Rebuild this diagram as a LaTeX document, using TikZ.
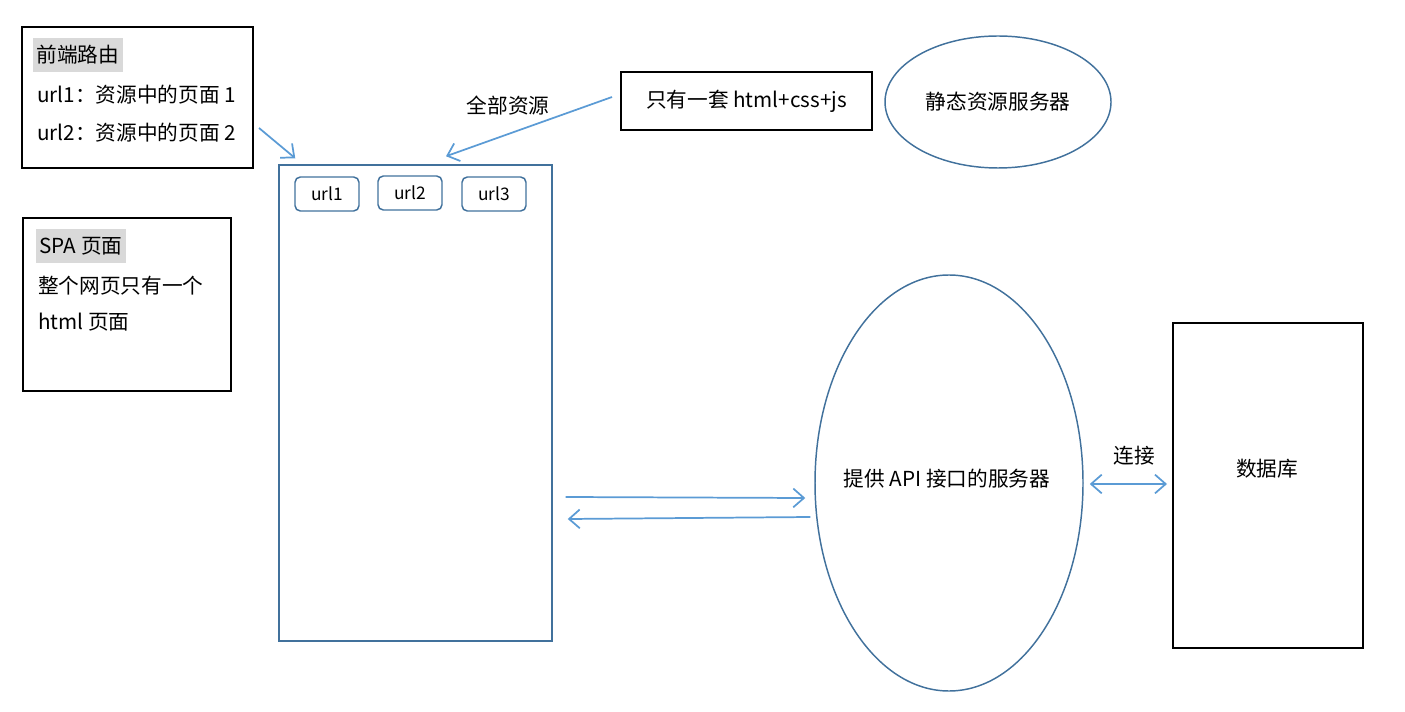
\documentclass[tikz,border=0pt]{standalone}
\usepackage{fontspec}
\setmainfont{Noto Sans CJK SC}
\usepackage{tikz}
\usetikzlibrary{arrows.meta, positioning, shapes.geometric}
\definecolor{edgeblue}{RGB}{65,113,156}
\definecolor{arrowblue}{RGB}{91,155,213}
\definecolor{markgray}{RGB}{217,217,217}

\begin{document}
\begin{tikzpicture}[
  x=0.75pt, y=-0.75pt,
  font=\fontsize{15.5}{18}\selectfont,
  note/.style={rectangle, draw=black, line width=1.5pt},
  blk/.style={rectangle, draw=edgeblue, line width=1.1pt},
  urlbox/.style={rectangle, draw=edgeblue, line width=1.1pt, rounded corners=4pt,
                 minimum width=48pt, minimum height=25.5pt, font=\fontsize{13}{15}\selectfont},
  srv/.style={ellipse, draw=edgeblue, line width=1.1pt, inner sep=0pt},
  txtline/.style={anchor=west, inner sep=0pt},
  hilite/.style={anchor=west, fill=markgray, inner xsep=2.5pt, inner ysep=0pt, minimum height=26pt},
  arr/.style={-{Straight Barb[length=8pt, width=14pt]}, arrowblue, line width=1.3pt},
  darr/.style={{Straight Barb[length=8pt, width=14pt]}-{Straight Barb[length=8pt, width=14pt]}, arrowblue, line width=1.3pt},
]
  \useasboundingbox (0,0) rectangle (1405,712);

  % left notes
  \node[note, minimum width=173.25pt, minimum height=105.75pt] (route) at (137.5,97.5) {};
  \node[hilite] (routetitle) at (33,55) {前端路由};
  \node[txtline] (routeone) at (37,95) {url1：资源中的页面 1};
  \node[txtline] (routetwo) at (37,133) {url2：资源中的页面 2};

  \node[note, minimum width=156pt, minimum height=129.75pt] (spa) at (127,304.5) {};
  \node[hilite] (spatitle) at (36,246) {SPA 页面};
  \node[txtline] (spaone) at (38,286) {整个网页只有一个};
  \node[txtline] (spatwo) at (38,322) {html 页面};

  % the single page
  \node[blk, minimum width=204.75pt, minimum height=357pt] (page) at (415.5,403) {};
  \node[urlbox] (u1) at (327,194) {url1};
  \node[urlbox] (u2) at (410,193) {url2};
  \node[urlbox] (u3) at (494,194) {url3};

  % static resources
  \node[note, minimum width=188.25pt, minimum height=43.5pt] (only) at (746.5,101) {只有一套 html+css+js};
  \node[srv, minimum width=169.5pt, minimum height=99pt] (static) at (998,102) {};
  \node (statictext) at (static.center) {静态资源服务器};
  \node (allres) at (508,106) {全部资源};

  % api server and database
  \node[srv, minimum width=201pt, minimum height=312pt] (api) at (949,483) {};
  \node (apitext) at (947,479) {提供 API 接口的服务器};
  \node[note, minimum width=142.5pt, minimum height=243.75pt] (db) at (1268,485.5) {};
  \node (dbtext) at (1267,469) {数据库};
  \node (link) at (1134,456) {连接};

  % arrows
  \draw[arr] ([shift={(5,30.5)}]route.east) -- ([shift={(17,-6)}]page.north west);
  \draw[arr] ([shift={(-8,-4)}]only.west) -- ([shift={(30.5,-8)}]page.north);
  \draw[arr] ([shift={(13,94)}]page.east) -- ([shift={(-9,15)}]api.west);
  \draw[arr] ([shift={(-4,34)}]api.west) -- ([shift={(15,116)}]page.east);
  \draw[darr] ([shift={(6,1)}]api.east) -- ([shift={(-5,-1.5)}]db.west);
\end{tikzpicture}
\end{document}
